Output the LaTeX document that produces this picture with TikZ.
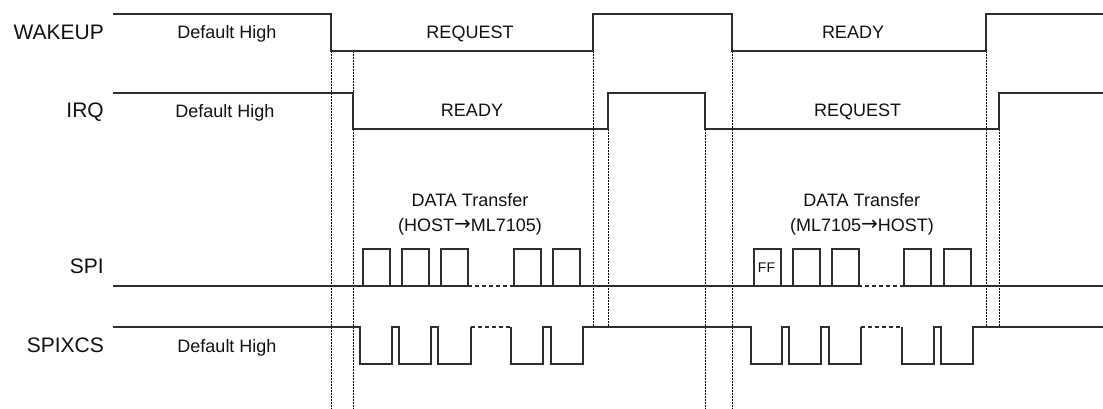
\documentclass[tikz,border=0pt]{standalone}
\usepackage{fontspec}
\setmainfont{Liberation Sans}
\newfontfamily\arrowfont{DejaVu Sans}
\usetikzlibrary{positioning}
\definecolor{WaveGrey}{HTML}{2E2E2E}
\definecolor{GuideBlack}{HTML}{000000}
\definecolor{LabelBlack}{HTML}{111111}
\newcommand{\rarr}{{\arrowfont\fontsize{20}{22}\selectfont\raisebox{0.5pt}{→}}}

\begin{document}
\begin{tikzpicture}[
            x=1pt, y=-1pt,
            text=LabelBlack,
            signame/.style={
                    anchor=base east,
                    inner sep=0pt,
                    font=\fontsize{21}{24}\selectfont
                },
            wavelabel/.style={
                    anchor=base,
                    inner sep=0pt,
                    font=\fontsize{18}{22}\selectfont
                },
            wave/.style={draw=WaveGrey, line width=1.6pt},
            gapline/.style={wave, dash pattern=on 4pt off 3pt},
            guide/.style={draw=GuideBlack, line width=1pt, dash pattern=on 2pt off 1pt},
        ]
        \useasboundingbox (0,0) rectangle (1103,409);

        % Guide lines (edges of WAKEUP / IRQ)
        \draw[guide] (331,51) -- (331,409);
        \draw[guide] (353,51) -- (353,409);
        \draw[guide] (593,51) -- (593,327);
        \draw[guide] (608,129) -- (608,327);
        \draw[guide] (705,129) -- (705,409);
        \draw[guide] (732,51) -- (732,409);
        \draw[guide] (986,51) -- (986,327);
        \draw[guide] (999,129) -- (999,327);

        % Signal names
        \node[signame] (wakeup) at (104,40) {WAKEUP};
        \node[signame] (irq) at (104,117.3) {IRQ};
        \node[signame] (spi) at (104,273.3) {SPI};
        \node[signame] (spixcs) at (104,352.4) {SPIXCS};

        % WAKEUP
        \draw[wave] (113,14) -| (331,51) -| (593,14) -| (732,51) -| (986,14) -- (1103,14);
        \node[wavelabel] (wkdefault) at (227,39) {Default High};
        \node[wavelabel] (wkrequest) at (470,38.5) {REQUEST};
        \node[wavelabel] (wkready) at (853,38.5) {READY};

        % IRQ
        \draw[wave] (113,93) -| (353,129) -| (608,93) -| (705,129) -| (999,93) -- (1103,93);
        \node[wavelabel] (irqdefault) at (225,117.3) {Default High};
        \node[wavelabel] (irqready) at (472,116.8) {READY};
        \node[wavelabel] (irqrequest) at (857.5,116.8) {REQUEST};

        % SPI
        \draw[wave] (113,286) -- (468,286);
        \draw[gapline] (468,286) -- (514,286);
        \draw[wave] (514,286) -- (858,286);
        \draw[gapline] (858,286) -- (904,286);
        \draw[wave] (904,286) -- (1103,286);
        \foreach \x in {363,402,441,514,553,754,793,832,904,944}
        \draw[wave] (\x,286) |- (\x+27,249) -- (\x+27,286);
        \node[inner sep=0pt, anchor=base, font=\fontsize{14}{16}\selectfont] (ff) at (766.5,272.3) {FF};

        \node[wavelabel] (dtone) at (470,206.7) {DATA Transfer};
        \node[wavelabel] (dtonedir) at (470,231) {(HOST\rarr ML7105)};
        \node[wavelabel] (dttwo) at (861.7,206.7) {DATA Transfer};
        \node[wavelabel] (dttwodir) at (862,231) {(ML7105\rarr HOST)};

        % SPIXCS
        \draw[wave] (113,327) -- (360,327) |- (392,364) -- (392,327) -- (399,327) |- (431,364) -- (431,327)
        -- (438,327) |- (471,364) -- (471,327);
        \draw[gapline] (471,327) -- (511,327);
        \draw[wave] (511,327) |- (543,364) -- (543,327) -- (551,327) |- (583,364) -- (583,327)
        -- (751,327) |- (782,364) -- (782,327) -- (789,327) |- (821,364) -- (821,327)
        -- (829,327) |- (861,364) -- (861,327);
        \draw[gapline] (861,327) -- (902,327);
        \draw[wave] (902,327) |- (934,364) -- (934,327) -- (941,327) |- (973,364) -- (973,327) -- (1103,327);
        \node[wavelabel] (csdefault) at (227,352.3) {Default High};

    \end{tikzpicture}
\end{document}
